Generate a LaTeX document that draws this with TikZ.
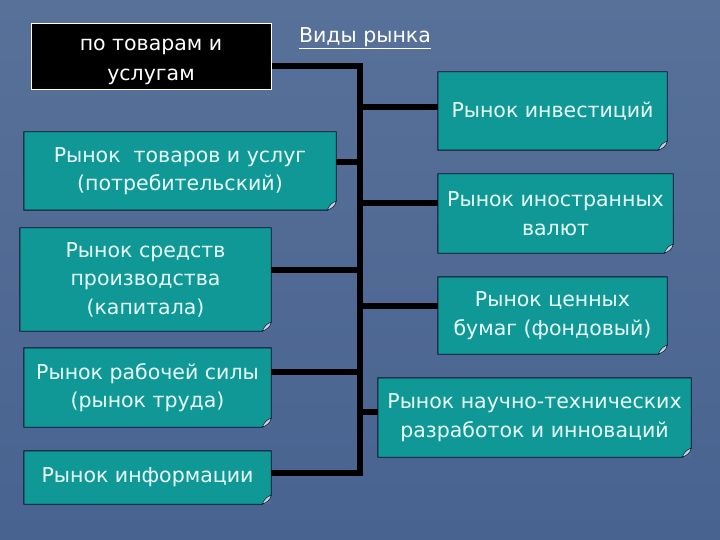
\documentclass[tikz,border=0pt]{standalone}
\usepackage{fontspec}
\setmainfont{DejaVu Sans}
\usetikzlibrary{calc}
\definecolor{bgc}{RGB}{80,106,148}
\definecolor{bgtop}{RGB}{88,113,153}
\definecolor{bgbot}{RGB}{72,99,144}
\definecolor{tealfill}{RGB}{16,152,150}
\definecolor{txtc}{RGB}{232,255,252}
\definecolor{curlc}{RGB}{196,210,224}
\definecolor{edgec}{RGB}{10,20,40}
\tikzset{
  mkt/.style={rectangle, fill=tealfill, draw=none, text=txtc, align=center, inner sep=0pt,
    font=\fontsize{20.5}{28.5}\selectfont},
  outl/.style={draw=edgec, line width=0.9pt, line join=miter},
  curl/.style={fill=curlc, draw=edgec, line width=0.5pt},
  conn/.style={draw=black, line width=5.5pt},
  blackbox/.style={rectangle, fill=black, draw=white, line width=1pt, text=white,
    inner sep=0pt, font=\fontsize{20.5}{30}\selectfont},
  heading/.style={text=white, inner sep=0pt, font=\fontsize{20.5}{28}\selectfont}
}
\newcommand\foldcorner[1]{%
  \fill[bgc] ([xshift=-9pt]#1.south east) -- (#1.south east) -- ([yshift=9pt]#1.south east) -- cycle;
  \draw[outl] (#1.north west) -- (#1.north east) -- ([yshift=9pt]#1.south east)
     -- ([xshift=-9pt]#1.south east) -- (#1.south west) -- cycle;
  \filldraw[curl] ([xshift=-9pt]#1.south east)
     .. controls ([xshift=-4pt,yshift=2pt]#1.south east) and ([xshift=-1pt,yshift=4pt]#1.south east)
     .. ([yshift=9pt]#1.south east)
     .. controls ([xshift=-4pt,yshift=8pt]#1.south east) and ([xshift=-7pt,yshift=5pt]#1.south east)
     .. cycle;
}
\begin{document}
\begin{tikzpicture}[x=1pt,y=-1pt]
  \shade[top color=bgtop, bottom color=bgbot] (0,0) rectangle (720,540);
  \useasboundingbox (0,0) rectangle (720,540);

  % heading
  \node[heading] (ttl) at (365,38) {\underline{Виды рынка}};

  % black box
  \node[blackbox, minimum width=240pt, minimum height=66pt] (blk) at (151,57)
     {\raisebox{-8pt}[0pt][0pt]{\begin{tabular}{@{}c@{}}по товарам и\\услугам\end{tabular}}};

  % left boxes
  \node[mkt, minimum width=312pt, minimum height=78pt] (b1) at (180,171)
     {Рынок~ товаров и услуг\\(потребительский)};
  \node[mkt, minimum width=251pt, minimum height=103pt] (b2) at (145.5,279.5)
     {Рынок средств\\производства\\(капитала)};
  \node[mkt, minimum width=247pt, minimum height=79pt] (b3) at (147.5,387.5)
     {Рынок рабочей силы\\(рынок труда)};
  \node[mkt, minimum width=247pt, minimum height=53pt] (b4) at (147.5,477.5)
     {Рынок информации};

  % right boxes
  \node[mkt, minimum width=229pt, minimum height=78pt] (r1) at (552.5,111)
     {Рынок инвестиций};
  \node[mkt, minimum width=235pt, minimum height=79pt] (r2) at (555.5,213.5)
     {Рынок иностранных\\валют};
  \node[mkt, minimum width=229pt, minimum height=77pt] (r3) at (552.5,315.5)
     {Рынок ценных\\бумаг (фондовый)};
  \node[mkt, minimum width=313pt, minimum height=79pt] (r4) at (534.5,417.5)
     {Рынок научно-технических\\разработок и инноваций};

  \foreach \n in {b1,b2,b3,b4,r1,r2,r3,r4} {\foldcorner{\n}}

  % spine
  \coordinate (spT) at (360,63.5);
  \coordinate (spB) at (360,476);
  \draw[conn] (spT) -- (spB);
  \draw[conn] ([yshift=-9pt]blk.east) -- ([yshift=-9pt]blk.east -| spT);

  \draw[conn] ([yshift=9pt]b1.east) -- ([yshift=9pt]b1.east -| spT);
  \draw[conn] ([yshift=9.5pt]b2.east) -- ([yshift=9.5pt]b2.east -| spT);
  \draw[conn] ([yshift=15.5pt]b3.east) -- ([yshift=15.5pt]b3.east -| spT);
  \draw[conn] ([yshift=4.5pt]b4.east) -- ([yshift=4.5pt]b4.east -| spT);

  \draw[conn] ([yshift=4pt]r1.west -| spT) -- ([yshift=4pt]r1.west);
  \draw[conn] ([yshift=10.5pt]r2.west -| spT) -- ([yshift=10.5pt]r2.west);
  \draw[conn] ([yshift=9.5pt]r3.west -| spT) -- ([yshift=9.5pt]r3.west);
  \draw[conn] ([yshift=5.5pt]r4.west -| spT) -- ([yshift=5.5pt]r4.west);
\end{tikzpicture}
\end{document}
